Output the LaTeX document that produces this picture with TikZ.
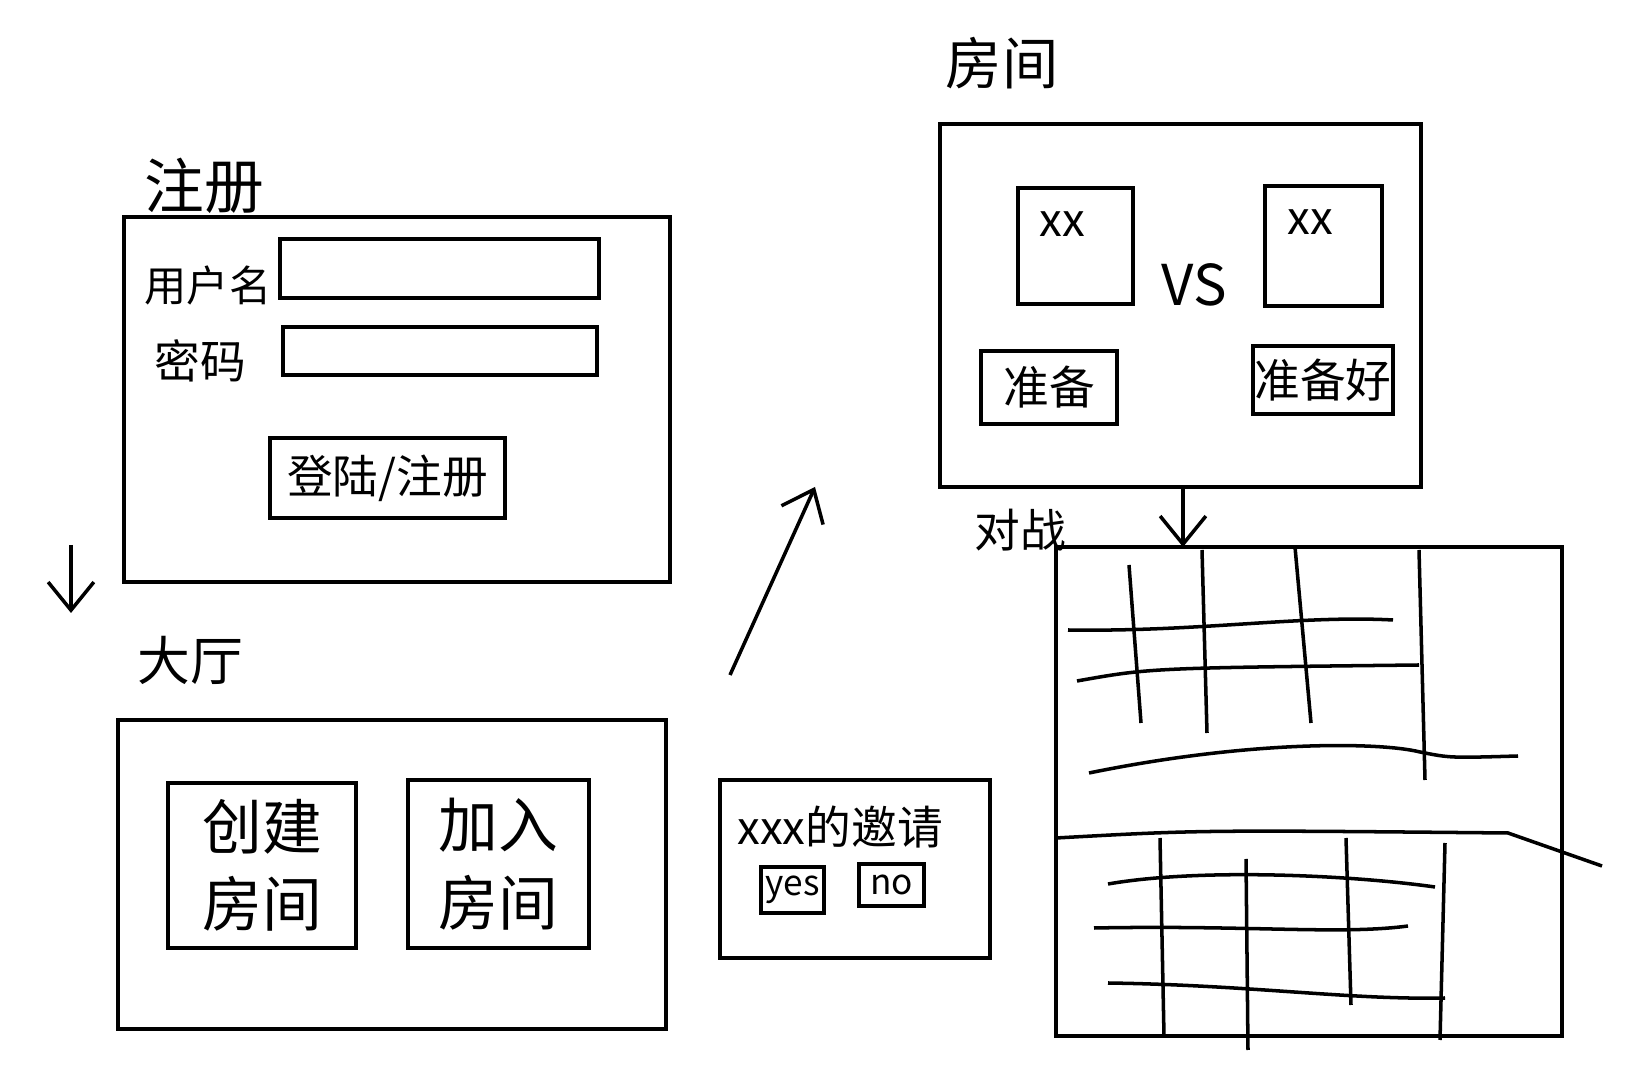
\documentclass[tikz,border=0pt]{standalone}
\usepackage{fontspec}
\newfontfamily\cjk{Noto Sans CJK SC}
\usetikzlibrary{arrows.meta,fit}
\begin{document}
\begin{tikzpicture}[x=0.01cm,y=-0.01cm,
  box/.style={draw, line width=1pt, inner sep=0pt},
  ttl/.style={font=\cjk\fontsize{16}{19}\selectfont},
  lbl/.style={font=\cjk\fontsize{13}{15}\selectfont},
  big/.style={font=\cjk\fontsize{17}{22}\selectfont, align=center},
  sm/.style={font=\cjk\fontsize{10}{12}\selectfont},
  arr/.style={line width=1pt, -{Straight Barb[length=8pt,width=13pt]}},
  gl/.style={line width=1pt}]
\useasboundingbox (0,0) rectangle (1642,1080);

% ---------- register screen ----------
\node[font=\cjk\fontsize{17}{19}\selectfont] (tReg) at (204,186) {注册};
\node[box, fit={(124,217) (670,582)}] (reg) {};
\node[font=\cjk\fontsize{12}{14}\selectfont] (lUser) at (208,285) {用户名};
\node[box, fit={(280,239) (599,298)}] (inUser) {};
\node[lbl] (lPass) at (200,361) {密码};
\node[box, fit={(283,327) (597,375)}] (inPass) {};
\node[box, fit={(270,438) (505,518)}] (btnLogin) {};
\node[lbl] (tLogin) at (btnLogin.center) {登陆/注册};

% arrow register -> lobby
\coordinate (a1s) at (71,545);
\coordinate (a1e) at (71,613);
\draw[arr] (a1s) -- (a1e);

% ---------- lobby ----------
\node[font=\cjk\fontsize{15}{18}\selectfont] (tLobby) at (190,660) {大厅};
\node[box, fit={(118,720) (666,1029)}] (lobby) {};
\node[box, fit={(168,783) (356,948)}] (create) {};
\node[big] (tCreate) at (create.center) {创建\\房间};
\node[box, fit={(408,780) (589,948)}] (join) {};
\node[big] (tJoin) at (join.center) {加入\\房间};

% ---------- invitation ----------
\node[box, fit={(720,780) (990,958)}] (invite) {};
\node[lbl] (tInvite) at (840,827) {xxx的邀请};
\node[box, fit={(761,867) (824,913)}] (yes) {};
\node[sm] (tYes) at (yes.center) {yes};
\node[box, fit={(859,864) (924,906)}] (no) {};
\node[sm] (tNo) at (no.center) {no};

% arrow lobby -> room
\coordinate (a2s) at (730,675);
\coordinate (a2e) at (815,487);
\draw[arr] (a2s) -- (a2e);

% ---------- room ----------
\node[ttl] (tRoom) at (1002,63) {房间};
\node[box, fit={(940,124) (1421,487)}] (room) {};
\node[box, fit={(1018,188) (1133,304)}] (p1) {};
\node[lbl] (x1) at (1062,224) {xx};
\node[box, fit={(1265,186) (1382,306)}] (p2) {};
\node[lbl] (x2) at (1310,222) {xx};
\node[font=\cjk\fontsize{16}{18}\selectfont] (vs) at (1194,285) {VS};
\node[box, fit={(981,351) (1117,424)}] (ready1) {};
\node[lbl] (tReady1) at (ready1.center) {准备};
\node[box, fit={(1253,346) (1393,414)}] (ready2) {};
\node[lbl] (tReady2) at (ready2.center) {准备好};

% arrow room -> battle
\coordinate (a3s) at (1183,487);
\coordinate (a3e) at (1183,547);
\draw[arr] (a3s) -- (a3e);

% ---------- battle ----------
\node[lbl] (tBattle) at (1020,530) {对战};
\node[box, fit={(1056,547) (1562,1036)}] (battle) {};
% upper grid
\draw[gl] (1129,565) -- (1141,723);
\draw[gl] (1202,550) -- (1207,733);
\draw[gl] (1295,547) -- (1311,723);
\draw[gl] (1419,550) -- (1425,780);
\draw[gl] (1068,630) .. controls (1200,632) and (1300,615) .. (1393,620);
\draw[gl] (1077,681) .. controls (1150,668) .. (1419,665);
\draw[gl] (1089,773) .. controls (1250,740) and (1380,742) .. (1420,752) .. controls (1450,758) .. (1518,756);
% separator
\draw[gl] (1056,838) .. controls (1200,830) .. (1508,833) -- (1602,866);
% lower grid
\draw[gl] (1160,838) -- (1164,1036);
\draw[gl] (1246,859) -- (1248,1050);
\draw[gl] (1346,838) -- (1351,1005);
\draw[gl] (1445,843) -- (1440,1040);
\draw[gl] (1108,884) .. controls (1200,868) and (1350,875) .. (1435,887);
\draw[gl] (1094,928) .. controls (1250,925) and (1340,935) .. (1408,926);
\draw[gl] (1108,983) .. controls (1250,985) and (1350,1000) .. (1445,998);
\end{tikzpicture}
\end{document}
